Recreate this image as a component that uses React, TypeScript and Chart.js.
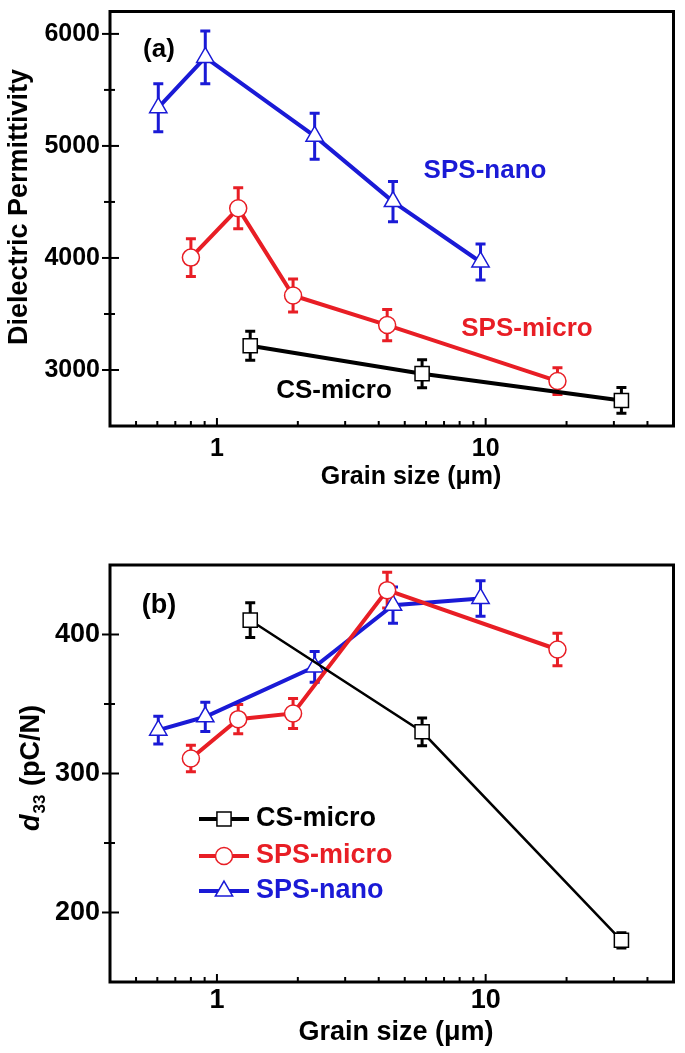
import React, { useEffect, useRef } from 'react';
import { Chart, registerables } from 'chart.js';

Chart.register(...registerables);

const FONT = '"Liberation Sans", Arial, Helvetica, sans-serif';
const BLACK = '#000000';
const RED = '#e81e25';
const BLUE = '#1a1ad6';

// ---- data ----
const seriesNames = ['CS-micro', 'SPS-micro', 'SPS-nano'];

const csMicroGrain = [1.33, 5.8, 32];
const spsMicroGrain = [0.8, 1.2, 1.92, 4.3, 18.5];
const spsNanoGrain = [0.605, 0.905, 2.31, 4.52, 9.57];

// (a) dielectric permittivity
const csMicroPerm = [3216, 2967, 2728];
const csMicroPermErr = [130, 125, 115];
const spsMicroPerm = [4003, 4443, 3665, 3401, 2901];
const spsMicroPermErr = [168, 183, 147, 140, 120];
const spsNanoPerm = [5341, 5790, 5087, 4503, 3964];
const spsNanoPermErr = [214, 235, 205, 180, 160];

// (b) d33
const csMicroD33 = [410.3, 330, 180];
const csMicroD33Err = [12.5, 10, 5.5];
const spsMicroD33 = [310.8, 339.1, 343.2, 431.9, 389.2];
const spsMicroD33Err = [9.5, 10.5, 10.8, 12.8, 11.7];
const spsNanoD33 = [331.2, 340.8, 376.7, 421.1, 425.9];
const spsNanoD33Err = [10, 10.5, 11, 13, 12.8];

// ticks
const xMajorTicks = [1, 10];
const xMinorTicks = [0.5, 0.6, 0.7, 0.8, 0.9, 2, 3, 4, 5, 6, 7, 8, 9, 20, 30, 40];
const permMajorTicks = [3000, 4000, 5000, 6000];
const permMinorTicks = [3500, 4500, 5500];
const d33MajorTicks = [200, 300, 400];
const d33MinorTicks = [250, 350];

// ---- helpers ----
function drawMarker(ctx: CanvasRenderingContext2D, style: string, x: number, y: number, r: number, color: string) {
  ctx.save();
  ctx.fillStyle = '#ffffff';
  ctx.strokeStyle = color;
  ctx.lineWidth = 1.5;
  ctx.beginPath();
  if (style === 'circle') {
    ctx.arc(x, y, r, 0, Math.PI * 2);
  } else if (style === 'rect') {
    const s = r * Math.SQRT1_2;
    ctx.rect(x - s, y - s, 2 * s, 2 * s);
  } else {
    for (let k = 0; k < 3; k++) {
      const a = (k * 2 * Math.PI) / 3;
      const px = x + Math.sin(a) * r;
      const py = y - Math.cos(a) * r;
      if (k === 0) ctx.moveTo(px, py);
      else ctx.lineTo(px, py);
    }
    ctx.closePath();
  }
  ctx.fill();
  ctx.stroke();
  ctx.restore();
}

const errorBarPlugin = {
  id: 'errorBars',
  beforeDatasetsDraw(chart: any) {
    const ctx = chart.ctx as CanvasRenderingContext2D;
    const xs = chart.scales.x;
    const ys = chart.scales.y;
    chart.data.datasets.forEach((ds: any) => {
      if (!ds.errors) return;
      ctx.save();
      ctx.strokeStyle = ds.borderColor;
      ctx.lineWidth = 3;
      ctx.lineCap = 'butt';
      ds.data.forEach((p: any, i: number) => {
        const e = ds.errors[i];
        const px = xs.getPixelForValue(p.x);
        const top = ys.getPixelForValue(p.y + e);
        const bot = ys.getPixelForValue(p.y - e);
        const cap = 5;
        ctx.beginPath();
        ctx.moveTo(px, top);
        ctx.lineTo(px, bot);
        ctx.moveTo(px - cap, top);
        ctx.lineTo(px + cap, top);
        ctx.moveTo(px - cap, bot);
        ctx.lineTo(px + cap, bot);
        ctx.stroke();
      });
      ctx.restore();
    });
  },
};

function makeOverlay(spec: any) {
  return {
    id: 'overlay',
    afterDraw(chart: any) {
      const ctx = chart.ctx as CanvasRenderingContext2D;
      const a = chart.chartArea;
      const xs = chart.scales.x;
      const ys = chart.scales.y;
      ctx.save();
      ctx.strokeStyle = '#000';
      ctx.lineWidth = 2;
      const tx = (v: number, len: number) => {
        const px = xs.getPixelForValue(v);
        ctx.beginPath();
        ctx.moveTo(px, a.bottom);
        ctx.lineTo(px, a.bottom - len);
        ctx.stroke();
      };
      xMajorTicks.forEach((v) => tx(v, 8));
      xMinorTicks.forEach((v) => tx(v, 5));
      const ty = (v: number, out: number, inn: number) => {
        const py = ys.getPixelForValue(v);
        ctx.beginPath();
        ctx.moveTo(a.left - out, py);
        ctx.lineTo(a.left + inn, py);
        ctx.stroke();
      };
      spec.yMajor.forEach((v: number) => ty(v, 8, 9));
      spec.yMinor.forEach((v: number) => ty(v, 6, 5));
      // frame
      ctx.lineWidth = 3;
      ctx.strokeRect(a.left, a.top, a.right - a.left, a.bottom - a.top);

      // texts
      ctx.textAlign = 'center';
      ctx.textBaseline = 'middle';
      spec.texts.forEach((t: any) => {
        ctx.font = `bold ${t.size}px ${FONT}`;
        ctx.fillStyle = t.color;
        ctx.fillText(t.text, t.x, t.y);
      });

      // x title
      ctx.fillStyle = '#000';
      ctx.font = `bold ${spec.xTitle.size}px ${FONT}`;
      ctx.fillText('Grain size (\u03bcm)', spec.xTitle.x, spec.xTitle.y);

      // y title
      ctx.save();
      ctx.translate(spec.yTitle.x, spec.yTitle.y);
      ctx.rotate(-Math.PI / 2);
      const size = spec.yTitle.size;
      if (spec.yTitle.kind === 'perm') {
        ctx.font = `bold ${size}px ${FONT}`;
        ctx.textAlign = 'center';
        ctx.textBaseline = 'middle';
        ctx.fillText('Dielectric Permittivity', 0, 0);
      } else {
        ctx.textAlign = 'left';
        ctx.textBaseline = 'alphabetic';
        const fIt = `italic bold ${size}px ${FONT}`;
        const fSub = `bold ${Math.round(size * 0.62)}px ${FONT}`;
        const fMain = `bold ${size}px ${FONT}`;
        ctx.font = fIt;
        const wd = ctx.measureText('d').width;
        ctx.font = fSub;
        const ws = ctx.measureText('33').width;
        ctx.font = fMain;
        const wr = ctx.measureText(' (pC/N)').width;
        const total = wd + ws + 2 + wr;
        let x = -total / 2;
        const base = size * 0.36;
        ctx.font = fIt;
        ctx.fillText('d', x, base);
        x += wd + 1;
        ctx.font = fSub;
        ctx.fillText('33', x, base + size * 0.22);
        x += ws + 1;
        ctx.font = fMain;
        ctx.fillText(' (pC/N)', x, base);
      }
      ctx.restore();

      // legend
      if (spec.legend) {
        const L = spec.legend;
        spec.series.forEach((s: any, i: number) => {
          const y = L.rows[i];
          ctx.strokeStyle = s.color;
          ctx.lineWidth = 4;
          ctx.beginPath();
          ctx.moveTo(L.x0, y);
          ctx.lineTo(L.x1, y);
          ctx.stroke();
          drawMarker(ctx, s.style, (L.x0 + L.x1) / 2, y, s.radius, s.color);
          ctx.font = `bold ${L.size}px ${FONT}`;
          ctx.fillStyle = s.color;
          ctx.textAlign = 'left';
          ctx.textBaseline = 'middle';
          ctx.fillText(s.name, L.tx, y);
        });
      }
      ctx.restore();
    },
  };
}

function buildConfig(spec: any) {
  const tickFont = { family: FONT, size: spec.tickSize, weight: 'bold' as const };
  return {
    type: 'scatter' as const,
    data: {
      datasets: spec.series.map((s: any) => ({
        label: s.name,
        data: s.x.map((x: number, i: number) => ({ x, y: s.y[i] })),
        errors: s.err,
        showLine: true,
        borderColor: s.color,
        backgroundColor: s.color,
        borderWidth: s.lw,
        pointStyle: s.style,
        pointRadius: s.radius,
        pointBackgroundColor: '#ffffff',
        pointBorderColor: s.color,
        pointBorderWidth: 1.5,
        tension: 0,
        fill: false,
      })),
    },
    options: {
      responsive: false,
      animation: false as const,
      devicePixelRatio: 1,
      events: [],
      layout: { padding: { top: spec.padTop, right: 8, left: 0, bottom: 0 } },
      plugins: { legend: { display: false }, tooltip: { enabled: false } },
      scales: {
        x: {
          type: 'logarithmic' as const,
          min: 0.4,
          max: 50,
          grid: { display: false, drawTicks: false },
          border: { display: false },
          afterBuildTicks: (sc: any) => {
            sc.ticks = xMajorTicks.map((v) => ({ value: v }));
          },
          afterFit: (sc: any) => {
            sc.height = spec.xAxisH;
            sc.paddingLeft = 0;
            sc.paddingRight = 0;
          },
          ticks: {
            callback: (v: any) => String(v),
            font: tickFont,
            color: '#000',
            padding: spec.xTickPad,
            maxRotation: 0,
            autoSkip: false,
          },
        },
        y: {
          type: 'linear' as const,
          min: spec.yMin,
          max: spec.yMax,
          grid: { display: false, drawTicks: false },
          border: { display: false },
          afterBuildTicks: (sc: any) => {
            sc.ticks = spec.yMajor.map((v: number) => ({ value: v }));
          },
          afterFit: (sc: any) => {
            sc.width = 110;
            sc.paddingTop = 0;
            sc.paddingBottom = 0;
          },
          ticks: {
            callback: (v: any) => String(v),
            font: tickFont,
            color: '#000',
            padding: 10,
          },
        },
      },
    },
    plugins: [errorBarPlugin, makeOverlay(spec)],
  };
}

const panelA = {
  padTop: 9,
  xAxisH: 104,
  xTickPad: 8,
  tickSize: 25,
  yMin: 2500,
  yMax: 6200,
  yMajor: permMajorTicks,
  yMinor: permMinorTicks,
  series: [
    { name: seriesNames[0], x: csMicroGrain, y: csMicroPerm, err: csMicroPermErr, color: BLACK, style: 'rect', radius: 10, lw: 4 },
    { name: seriesNames[1], x: spsMicroGrain, y: spsMicroPerm, err: spsMicroPermErr, color: RED, style: 'circle', radius: 8.5, lw: 4 },
    { name: seriesNames[2], x: spsNanoGrain, y: spsNanoPerm, err: spsNanoPermErr, color: BLUE, style: 'triangle', radius: 10, lw: 4 },
  ],
  texts: [
    { text: '(a)', x: 159, y: 50, size: 26, color: BLACK },
    { text: 'SPS-nano', x: 485, y: 171, size: 26, color: BLUE },
    { text: 'SPS-micro', x: 527, y: 329, size: 26, color: RED },
    { text: 'CS-micro', x: 334, y: 391, size: 26, color: BLACK },
  ],
  xTitle: { x: 411, y: 477, size: 25 },
  yTitle: { kind: 'perm', x: 20, y: 207, size: 27 },
  legend: null,
};

const panelB = {
  padTop: 35,
  xAxisH: 71,
  xTickPad: 2,
  tickSize: 27,
  yMin: 150,
  yMax: 450,
  yMajor: d33MajorTicks,
  yMinor: d33MinorTicks,
  series: [
    { name: seriesNames[0], x: csMicroGrain, y: csMicroD33, err: csMicroD33Err, color: BLACK, style: 'rect', radius: 10, lw: 2.5 },
    { name: seriesNames[1], x: spsMicroGrain, y: spsMicroD33, err: spsMicroD33Err, color: RED, style: 'circle', radius: 8.5, lw: 4 },
    { name: seriesNames[2], x: spsNanoGrain, y: spsNanoD33, err: spsNanoD33Err, color: BLUE, style: 'triangle', radius: 10, lw: 4 },
  ],
  texts: [{ text: '(b)', x: 159, y: 76, size: 27, color: BLACK }],
  xTitle: { x: 396, y: 503, size: 27 },
  yTitle: { kind: 'd33', x: 29, y: 238, size: 27 },
  legend: { x0: 199, x1: 249, tx: 256, rows: [289, 326, 361], size: 27 },
};

export default function App() {
  const refA = useRef<HTMLCanvasElement>(null);
  const refB = useRef<HTMLCanvasElement>(null);

  useEffect(() => {
    const ca = new Chart(refA.current as HTMLCanvasElement, buildConfig(panelA) as any);
    const cb = new Chart(refB.current as HTMLCanvasElement, buildConfig(panelB) as any);
    return () => {
      ca.destroy();
      cb.destroy();
    };
  }, []);

  return (
    <div style={{ position: 'absolute', left: 0, top: 0, width: 685, height: 1053, background: '#ffffff' }}>
      <canvas ref={refA} width={685} height={530} style={{ position: 'absolute', left: 0, top: 0, width: 685, height: 530 }} />
      <canvas ref={refB} width={685} height={523} style={{ position: 'absolute', left: 0, top: 530, width: 685, height: 523 }} />
    </div>
  );
}
